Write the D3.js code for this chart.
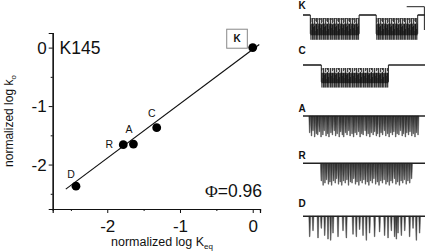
<!DOCTYPE html>
<html><head><meta charset="utf-8">
<script src="https://cdn.jsdelivr.net/npm/d3@7"></script>
<style>body{margin:0;background:#fff}svg{display:block}text{font-family:"Liberation Sans",Arial,sans-serif;fill:#111}</style>
</head><body><svg id="c" width="432" height="252"></svg>
<script>
// ---------- data ----------
const mutants = ["K", "C", "A", "R", "D"];
const logKeq = [0, -1.32, -1.64, -1.78, -2.43];
const logKo = [0, -1.37, -1.65, -1.66, -2.37];
const xTicks = [-2, -1, 0];
const yTicks = [0, -1, -2];
const xMinor = [-2.5, -1.5, -0.5];
const yMinor = [-0.5, -1.5, -2.5];
const fitSlope = 0.93, fitIntercept = -0.03;
const fitRange = [-2.57, 0.09];
const phiValue = 0.96;
const panelTitle = "K145";
// single-channel traces (time 0..100, depth as fraction of open level)
const traceNames = ["K", "C", "A", "R", "D"];
const burstsK = [[6, 46], [60, 94]];
const burstsC = [[15, 70]];
const spikesA = [[5.5,.8],[7,.95],[8.2,.7],[9.6,1],[11,.85],[12.1,.9],[13.5,.75],[14.8,1],[16.3,.9],[17.4,.7],[18.9,.95],[20.2,.85],[21.3,1],[22.9,.8],[24.1,.9],[25.6,.7],[26.8,.95],[28,.85],[29.7,1],[30.9,.75],[32.2,.9],[33.4,1],[34.9,.8],[36.1,.9],[37.5,.7],[38.6,.95],[40.2,.85],[41.5,1],[42.7,.8],[44.1,.9],[45.6,.75],[46.8,1],[48.2,.85],[49.3,.9],[50.9,.7],[52.1,.95],[53.4,.85],[54.8,1],[56,.8],[57.5,.9],[58.7,.75],[60.1,.95],[61.2,.85],[62.8,1],[64,.8],[65.3,.9],[66.7,.7],[67.9,.95],[69.4,.85],[70.6,1],[72,.8],[73.3,.9],[74.5,.75],[76,1],[77.2,.85],[78.6,.9],[79.9,.7],[81.3,.95],[82.4,.85],[83.9,1],[85.1,.8],[86.5,.9],[87.7,.75],[89.2,.95],[90.4,.85],[91.8,1],[93,.8],[94.3,.9]];
const spikesR = [[15,.8],[16.5,1],[18,.9],[19.2,.75],[20.8,.95],[22.1,.85],[23.5,1],[25,.8],[26.4,.9],[27.6,.7],[29.1,.95],[30.5,.85],[31.8,1],[33.2,.8],[34.6,.9],[36,.75],[37.3,1],[38.9,.85],[40.2,.9],[41.6,.7],[43,.95],[44.3,.85],[45.8,1],[47.1,.8],[48.5,.9],[49.9,.75],[51.2,.95],[52.7,.85],[54,1],[55.4,.8],[56.8,.9],[58.1,.7],[59.6,.95],[61,.85],[62.3,1],[63.8,.8],[65.1,.9],[66.5,.75],[68,.95],[69.3,.85],[70.7,1],[72.1,.8],[73.4,.9],[74.9,.7],[76.2,.95],[77.6,.85],[79,1],[80.4,.8],[81.8,.9],[83.1,.75],[84.6,.95],[86,.8],[87.5,.9],[89,.7]];
const spikesD = [[5.5,.85],[8.2,.6],[12.3,.9],[15,.5],[17.8,.8],[20.5,.95],[22.7,1],[24.6,.7],[28.7,.85],[32.8,.6],[35.5,.9],[41,.75],[43.7,.85],[46.4,.55],[49.2,.8],[51.9,1],[54.6,.7],[58.7,.85],[62.8,.65],[66.9,.8],[69.7,.9],[72.4,.6],[75.1,.85],[76.5,.95],[77.9,.7],[80.6,.8],[83.4,.6],[87.4,.85],[90.2,.5],[92.9,1],[95.6,.7]];

// ---------- chart ----------
const svg = d3.select("#c");
const x = d3.scaleLinear().domain([-2.75, 0.1]).range([52.7, 260]);
const y = d3.scaleLinear().domain([0.25, -2.76]).range([33, 209]);
const fmt = d => (d < 0 ? "-" : "") + Math.abs(d);

const gx = svg.append("g").attr("transform", `translate(0,${y.range()[1]})`);
gx.append("g").attr("class", "maj").call(d3.axisBottom(x).tickValues(xTicks).tickSize(4).tickPadding(7).tickFormat(fmt));
gx.append("g").call(d3.axisBottom(x).tickValues(xMinor).tickSize(2).tickFormat(() => ""));
const gy = svg.append("g").attr("transform", `translate(${x.range()[0]},0)`);
gy.append("g").attr("class", "maj").call(d3.axisLeft(y).tickValues(yTicks).tickSize(4).tickPadding(2).tickFormat(fmt));
gy.append("g").call(d3.axisLeft(y).tickValues(yMinor).tickSize(2).tickFormat(() => ""));
svg.selectAll(".domain").attr("stroke", "#111").attr("stroke-width", 1.2);
svg.selectAll(".tick line").attr("stroke", "#111");
svg.selectAll(".maj .tick text").attr("font-family", "Liberation Sans, Arial, sans-serif").attr("font-size", 17).attr("fill", "#111");

// fit line
svg.append("line")
  .attr("x1", x(fitRange[0])).attr("y1", y(fitSlope * fitRange[0] + fitIntercept))
  .attr("x2", x(fitRange[1])).attr("y2", y(fitSlope * fitRange[1] + fitIntercept))
  .attr("stroke", "#111").attr("stroke-width", 1.2);

// points
const pts = mutants.map((m, i) => ({m, kx: logKeq[i], ky: logKo[i]}));
svg.selectAll("circle.pt").data(pts).join("circle").attr("class", "pt")
  .attr("cx", d => x(d.kx)).attr("cy", d => y(d.ky)).attr("r", 4.4).attr("fill", "#000");

const lblOff = {C: [-5, -11], A: [-4.5, -11], R: [-14, 3], D: [-5, -8.5]};
svg.selectAll("text.pl").data(pts.filter(d => d.m !== "K")).join("text").attr("class", "pl")
  .attr("x", d => x(d.kx) + lblOff[d.m][0]).attr("y", d => y(d.ky) + lblOff[d.m][1])
  .attr("text-anchor", "middle").attr("font-size", 10.5).text(d => d.m);

// K box label
const kp = pts[0];
svg.append("rect").attr("x", x(kp.kx) - 26).attr("y", y(kp.ky) - 18.4).attr("width", 20.6).attr("height", 19)
  .attr("fill", "none").attr("stroke", "#888").attr("stroke-width", 1);
svg.append("text").attr("x", x(kp.kx) - 15.7).attr("y", y(kp.ky) - 5.2).attr("text-anchor", "middle")
  .attr("font-size", 10).attr("font-weight", "bold").text("K");

svg.append("text").attr("x", 59.5).attr("y", 53.5).attr("font-size", 17.5).text(panelTitle);
const phi = svg.append("text").attr("x", 262).attr("y", 197).attr("text-anchor", "end").attr("font-size", 17.5);
phi.append("tspan").attr("font-family", "Liberation Serif, Times New Roman, serif").text("Φ");
phi.append("tspan").text("=" + phiValue.toFixed(2));

// axis titles
const xt = svg.append("text").attr("x", 162).attr("y", 245.5).attr("text-anchor", "middle").attr("font-size", 12.5);
xt.append("tspan").text("normalized log K");
xt.append("tspan").attr("font-size", 8).attr("dy", 3).text("eq");
const yt = svg.append("text").attr("transform", "translate(12.5,121) rotate(-90)").attr("text-anchor", "middle").attr("font-size", 12);
yt.append("tspan").text("normalized log k");
yt.append("tspan").attr("font-size", 8).attr("dy", 3).text("o");

// ---------- traces ----------
const defs = svg.append("defs");
const pat = defs.append("pattern").attr("id", "flick").attr("patternUnits", "userSpaceOnUse")
  .attr("width", 11).attr("height", 24);
[[0.5, 0, 24, "#111"], [1.5, 4, 20, "#555"], [2.5, 1, 23, "#222"], [3.5, 6, 22, "#777"], [4.5, 0, 24, "#111"], [5.5, 3, 19, "#444"],
 [6.5, 2, 24, "#222"], [7.5, 7, 21, "#666"], [8.5, 0, 22, "#111"], [9.5, 5, 24, "#333"], [10.5, 2, 20, "#888"]]
  .forEach(([px, y1, y2, c]) => pat.append("line").attr("x1", px).attr("x2", px).attr("y1", y1).attr("y2", y2).attr("stroke", c).attr("stroke-width", 1));

const t = d3.scaleLinear().domain([0, 100]).range([303, 425]);
const rows = {
  K: {lab: 9, base: 15, amp: 14.5},
  C: {lab: 54.3, base: 65, amp: 13},
  A: {lab: 112, base: 116, amp: 21},
  R: {lab: 159, base: 163.3, amp: 22},
  D: {lab: 207.3, base: 216.3, amp: 24}
};
traceNames.forEach(n => {
  svg.append("text").attr("x", 302).attr("y", rows[n].lab).attr("text-anchor", "middle")
    .attr("font-size", 10).attr("font-weight", "bold").text(n);
});

function drawBursts(name, bursts) {
  const r = rows[name];
  let prev = 0;
  const segs = [];
  bursts.forEach(([a, b]) => { segs.push([prev, a]); prev = b; });
  segs.push([prev, 100]);
  svg.append("g").selectAll("line").data(segs).join("line")
    .attr("x1", d => t(d[0])).attr("x2", d => t(d[1])).attr("y1", r.base).attr("y2", r.base)
    .attr("stroke", "#222").attr("stroke-width", 1.6);
  const g = svg.append("g");
  bursts.forEach(([a, b]) => {
    g.append("rect").attr("x", t(a)).attr("width", t(b) - t(a)).attr("y", r.base + 3).attr("height", r.amp * 1.5)
      .attr("fill", "#c8c8c8");
    g.append("rect").attr("x", t(a)).attr("width", t(b) - t(a)).attr("y", r.base + 3)
      .attr("height", r.amp * 1.5).attr("fill", "url(#flick)").attr("opacity", 0.8);
    g.append("rect").attr("x", t(a)).attr("width", t(b) - t(a)).attr("y", r.base + r.amp * 0.6)
      .attr("height", r.amp * 0.8).attr("fill", "#0a0a0a").attr("opacity", 0.7);
    g.append("line").attr("x1", t(a)).attr("x2", t(a)).attr("y1", r.base).attr("y2", r.base + r.amp * 1.3).attr("stroke", "#222");
    g.append("line").attr("x1", t(b)).attr("x2", t(b)).attr("y1", r.base).attr("y2", r.base + r.amp * 1.3).attr("stroke", "#222");
  });
}
drawBursts("K", burstsK);
drawBursts("C", burstsC);

function drawSpikes(name, spikes) {
  const r = rows[name];
  svg.append("line").attr("x1", t(0)).attr("x2", t(100)).attr("y1", r.base).attr("y2", r.base)
    .attr("stroke", "#222").attr("stroke-width", 1.6);
  svg.append("g").selectAll("path").data(spikes).join("path")
    .attr("d", d => `M${t(d[0]) - 0.9},${r.base} L${t(d[0]) - 0.3},${r.base + d[1] * r.amp} L${t(d[0]) + 0.3},${r.base + d[1] * r.amp} L${t(d[0]) + 0.9},${r.base} Z`)
    .attr("fill", "#111").attr("stroke", "#333").attr("stroke-width", 0.5).attr("opacity", 0.85);
}
drawSpikes("A", spikesA);
drawSpikes("R", spikesR);
drawSpikes("D", spikesD);

// scale bar
svg.append("path").attr("d", `M${t(85)},6.7 H${t(99.5)} V30`).attr("fill", "none").attr("stroke", "#222").attr("stroke-width", 1);
</script></body></html>
